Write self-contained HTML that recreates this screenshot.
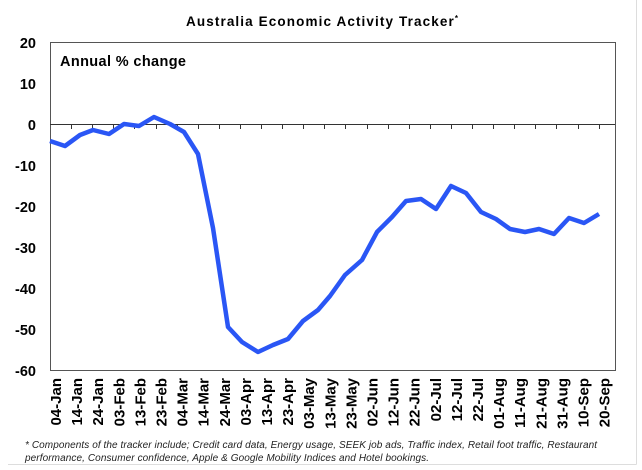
<!DOCTYPE html>
<html><head><style>
body{margin:0;background:#fff;}
svg{display:block;font-family:"Liberation Sans",Arial,sans-serif;}
</style></head><body>
<svg width="642" height="470" viewBox="0 0 642 470">
<rect x="0" y="0" width="642" height="470" fill="#fff"/>
<line x1="636.5" y1="0" x2="636.5" y2="464.5" stroke="#ddd"/>
<line x1="8" y1="464.5" x2="636.5" y2="464.5" stroke="#ddd"/>
<text x="186" y="26" textLength="272" font-size="13.5" font-weight="bold">Australia Economic Activity Tracker<tspan font-size="8" dy="-5">*</tspan></text>
<rect x="50.5" y="42.5" width="565" height="328" fill="none" stroke="#555" stroke-width="1"/>
<g font-size="14.5" font-weight="bold" text-anchor="end">
<text x="36" y="48">20</text>
<text x="36" y="89">10</text>
<text x="36" y="130">0</text>
<text x="36" y="171">-10</text>
<text x="36" y="212">-20</text>
<text x="36" y="253">-30</text>
<text x="36" y="294">-40</text>
<text x="36" y="335">-50</text>
<text x="36" y="376">-60</text>
</g>
<text x="60" y="66" font-size="14.5" font-weight="bold" textLength="126">Annual % change</text>
<line x1="50" y1="124.5" x2="615" y2="124.5" stroke="#333" stroke-width="1"/>
<g stroke="#333" stroke-width="1" id="ticks"></g>
<polyline fill="none" stroke="#2a56f5" stroke-width="4.5" stroke-linejoin="round" points="50,141 65,146 80,135 93,130 109,134 124,124 139,126 154,117 170,124 184,132 198,154 213,228 228,327 242,342 258,352 273,345 288,339 303,321 318,310 330,296 345,275 362,260 377,232 392,217 406,201 421,199 436,209 451,186 466,193 481,212 496,219 510,229 525,232 539,229 554,234 569,218 584,223 599,214"/>
<g font-size="15" font-weight="bold" id="lbl"></g>
<text x="25" y="448" font-size="10" font-style="italic" fill="#222" textLength="572">* Components of the tracker include; Credit card data, Energy usage, SEEK job ads, Traffic index, Retail foot traffic, Restaurant</text>
<text x="25" y="461" font-size="10" font-style="italic" fill="#222" textLength="404">performance, Consumer confidence, Apple &amp; Google Mobility Indices and Hotel bookings.</text>
</svg>
<script>
var labels=["04-Jan","14-Jan","24-Jan","03-Feb","13-Feb","23-Feb","04-Mar","14-Mar","24-Mar","03-Apr","13-Apr","23-Apr","03-May","13-May","23-May","02-Jun","12-Jun","22-Jun","02-Jul","12-Jul","22-Jul","01-Aug","11-Aug","21-Aug","31-Aug","10-Sep","20-Sep"];
var ns="http://www.w3.org/2000/svg";
var g=document.getElementById("lbl"),t=document.getElementById("ticks");
labels.forEach(function(s,i){
 var x=55.5+21.1*i;
 var e=document.createElementNS(ns,"text");
 e.setAttribute("transform","translate("+(x+5.5)+",378) rotate(-90)");
 e.setAttribute("text-anchor","end");
 e.textContent=s;g.appendChild(e);
});
for(var i=1;i<27;i++){var x=Math.round(50+21.1*i)+0.5;var l=document.createElementNS(ns,"line");
l.setAttribute("x1",x);l.setAttribute("x2",x);l.setAttribute("y1",124);l.setAttribute("y2",129);t.appendChild(l);}
</script>
</body></html>
